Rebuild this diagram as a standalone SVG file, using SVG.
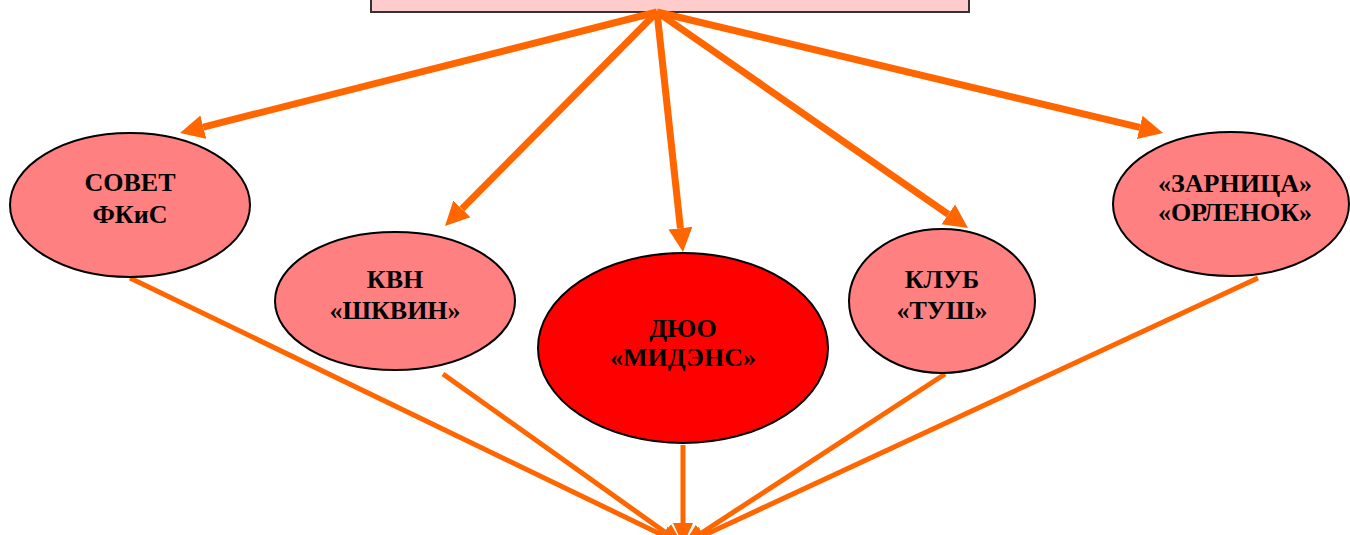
<svg xmlns="http://www.w3.org/2000/svg" width="1350" height="535" viewBox="0 0 1350 535">
<style>
.n{fill:#FF8080;stroke:#000;stroke-width:2}
.m{fill:#FF0000;stroke:#000;stroke-width:2}
.t{font-family:"Liberation Serif","DejaVu Serif",serif;font-weight:bold;font-size:26px;text-anchor:middle;fill:#000}
.a{stroke:#FF6600;stroke-width:7;fill:none;marker-end:url(#ah)}
.b{stroke:#FF6600;stroke-width:5;fill:none;marker-end:url(#bh)}
</style>
<defs>
<marker id="ah" markerUnits="userSpaceOnUse" markerWidth="26" markerHeight="26" viewBox="0 -13 26 26" refX="0" refY="0" orient="auto"><path d="M0,-12 L24,0 L0,12 z" fill="#FF6600"/></marker>
<marker id="bh" markerUnits="userSpaceOnUse" markerWidth="24" markerHeight="22" viewBox="0 -11 24 22" refX="0" refY="0" orient="auto"><path d="M0,-10 L22,0 L0,10 z" fill="#FF6600"/></marker>
</defs>
<g id="top"><rect x="371" y="-6" width="598" height="18" fill="#FFCCCC" stroke="#333" stroke-width="2"/></g>
<g id="connectors">
<line class="a" x1="657" y1="12" x2="203.3" y2="127.1"/>
<line class="a" x1="657" y1="12" x2="461.9" y2="208.9"/>
<line class="a" x1="657" y1="12" x2="680.4" y2="228.1"/>
<line class="a" x1="657" y1="12" x2="948.3" y2="214.3"/>
<line class="a" x1="657" y1="12" x2="1139.7" y2="127.4"/>
<line class="b" x1="130" y1="278" x2="663.2" y2="535.4"/>
<line class="b" x1="443" y1="374" x2="665.1" y2="532.2"/>
<line class="b" x1="683" y1="445" x2="683" y2="523"/>
<line class="b" x1="945" y1="374" x2="701.4" y2="533"/>
<line class="b" x1="1258" y1="278" x2="703" y2="535.7"/>
</g>
<g id="sovet"><ellipse class="n" cx="130" cy="205" rx="120" ry="72"/><text class="t" x="130" y="191">СОВЕТ</text><text class="t" x="130" y="223">ФКиС</text></g>
<g id="kvn"><ellipse class="n" cx="395" cy="301" rx="120" ry="69"/><text class="t" x="395" y="288">КВН</text><text class="t" x="395" y="319">«ШКВИН»</text></g>
<g id="duo"><ellipse class="m" cx="683" cy="348" rx="145" ry="95"/><text class="t" x="683" y="337">ДЮО</text><text class="t" x="683" y="366">«МИДЭНС»</text></g>
<g id="klub"><ellipse class="n" cx="942" cy="301" rx="93" ry="72"/><text class="t" x="942" y="288">КЛУБ</text><text class="t" x="942" y="319">«ТУШ»</text></g>
<g id="zarnica"><ellipse class="n" cx="1231" cy="204" rx="118" ry="72"/><text class="t" x="1235" y="192">«ЗАРНИЦА»</text><text class="t" x="1235" y="221">«ОРЛЕНОК»</text></g>
</svg>
